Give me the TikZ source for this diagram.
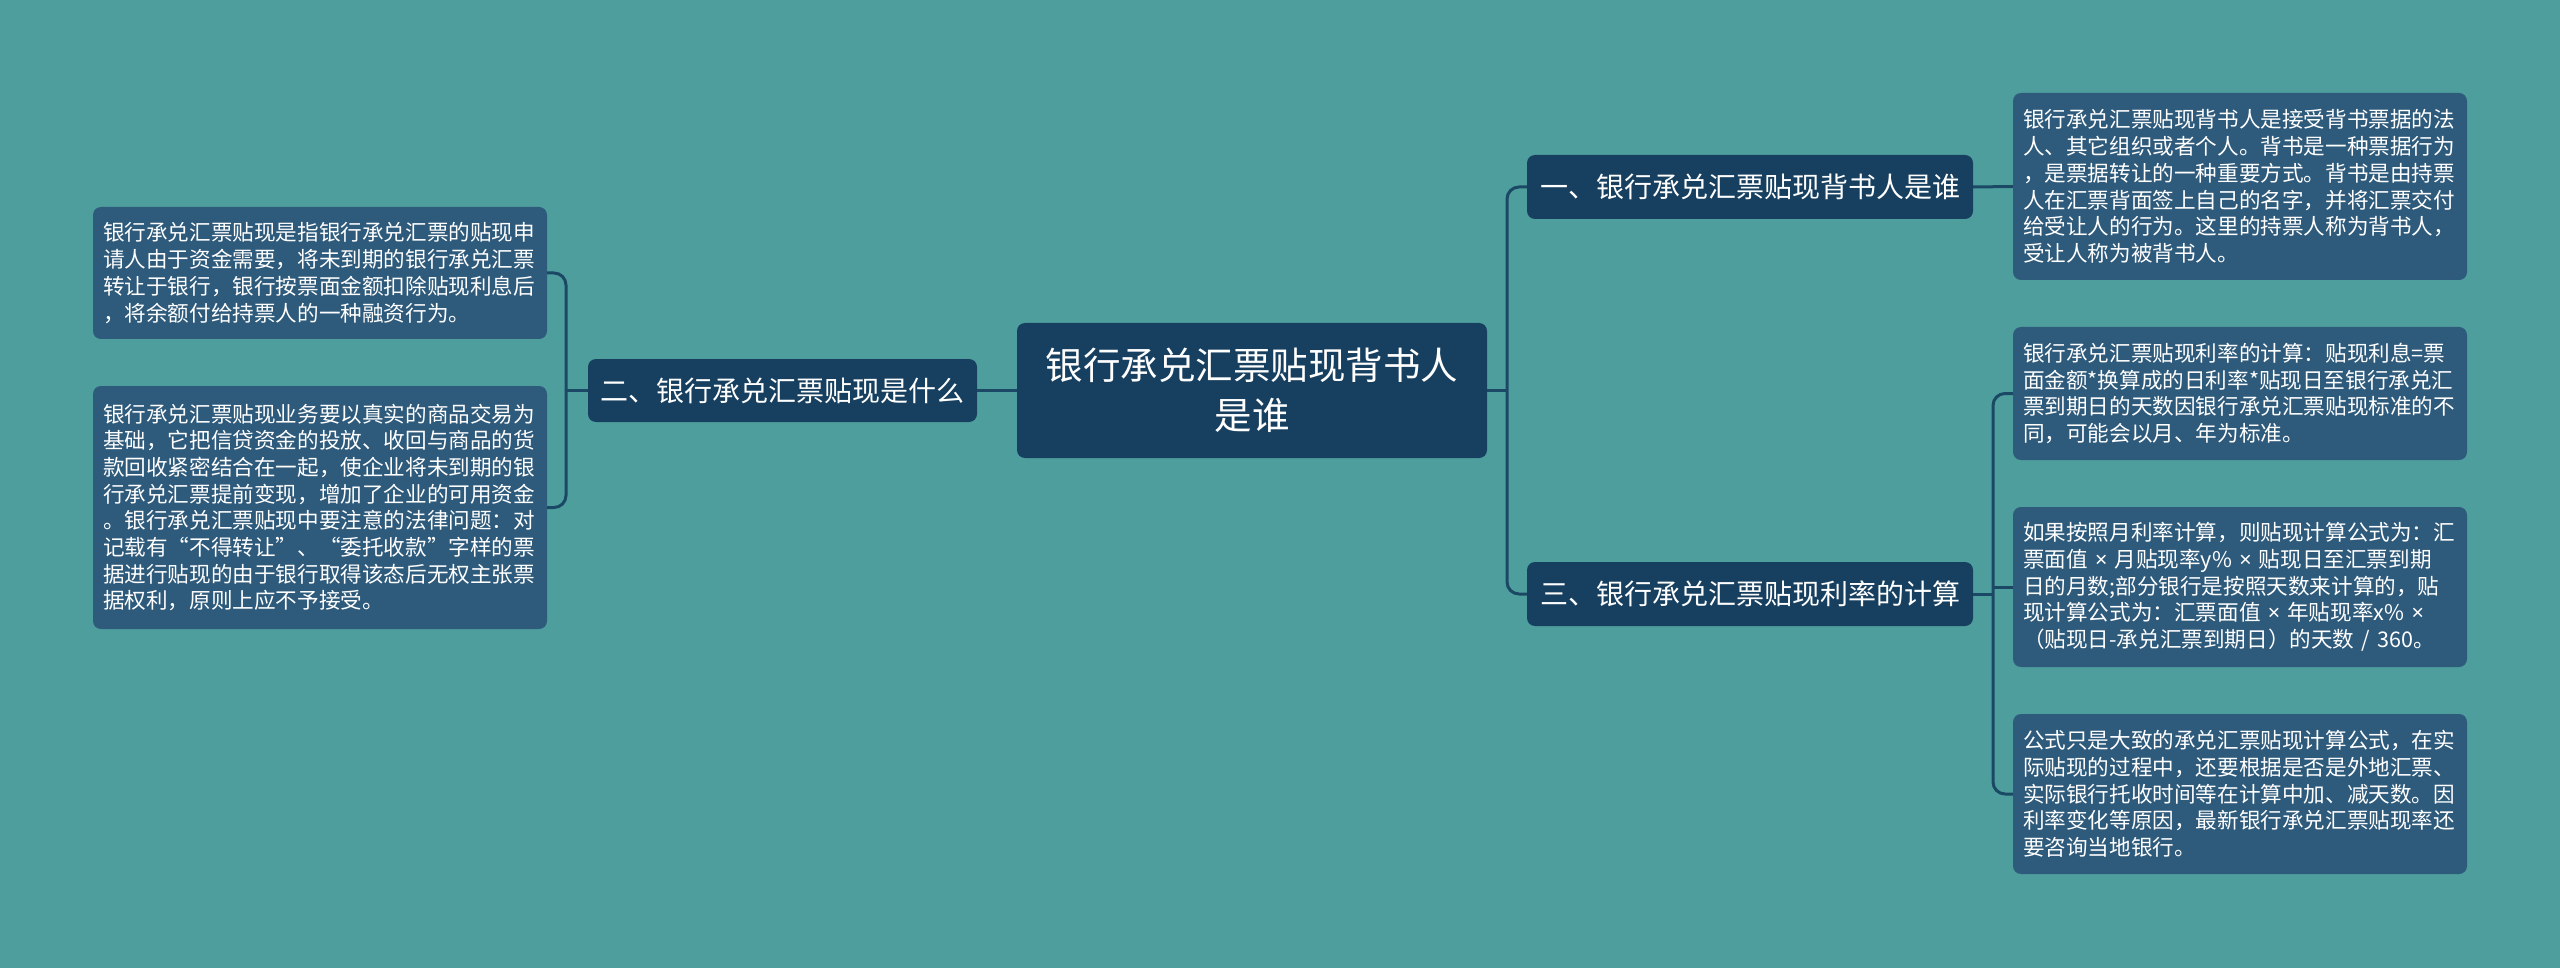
\documentclass[tikz,border=0pt]{standalone}
\usepackage{fontspec}
\setmainfont{Noto Sans CJK SC}
\newfontfamily\latinfont{Noto Sans}
\newcommand{\tms}{{\latinfont ×}}
\definecolor{bgcol}{HTML}{4E9E9D}
\definecolor{mainfill}{HTML}{173F5F}
\definecolor{leaffill}{HTML}{2E5A7B}
\definecolor{linecol}{HTML}{1B4965}
\tikzset{
  mainbox/.style={rectangle, rounded corners=8pt, fill=mainfill, text=white, inner sep=0pt, align=center},
  leafbox/.style={rectangle, rounded corners=8pt, fill=leaffill, text=white, inner sep=0pt, text width=434pt, minimum width=454pt, align=left, font=\fontsize{21.6pt}{26.7pt}\selectfont},
  topicfont/.style={font=\fontsize{28pt}{34pt}\selectfont},
  link/.style={draw=linecol, line width=3pt},
}
\begin{document}
\begin{tikzpicture}[x=1pt, y=-1pt]
\fill[bgcol] (0,0) rectangle (2560,968);
\useasboundingbox (0,0) rectangle (2560,968);

% central
\node[mainbox, minimum width=470pt, minimum height=135pt, text width=450pt, font=\fontsize{37.5pt}{50pt}\selectfont] (c) at (1252,390.5) {银行承兑汇票贴现背书人\\是谁};

% topics
\node[mainbox, topicfont, minimum width=446pt, minimum height=64pt] (n1) at (1750,187) {一、银行承兑汇票贴现背书人是谁};
\node[mainbox, topicfont, minimum width=446pt, minimum height=64pt] (n3) at (1750,594) {三、银行承兑汇票贴现利率的计算};
\node[mainbox, topicfont, minimum width=389pt, minimum height=63pt] (n2) at (782.5,390.5) {二、银行承兑汇票贴现是什么};

% left leaves
\node[leafbox, minimum height=132pt] (l1) at (320,273) {银行承兑汇票贴现是指银行承兑汇票的贴现申\\请人由于资金需要，将未到期的银行承兑汇票\\转让于银行，银行按票面金额扣除贴现利息后\\，将余额付给持票人的一种融资行为。};
\node[leafbox, minimum height=243pt] (l2) at (320,507.5) {银行承兑汇票贴现业务要以真实的商品交易为\\基础，它把信贷资金的投放、收回与商品的货\\款回收紧密结合在一起，使企业将未到期的银\\行承兑汇票提前变现，增加了企业的可用资金\\。银行承兑汇票贴现中要注意的法律问题：对\\记载有“不得转让”、“委托收款”字样的票\\据进行贴现的由于银行取得该态后无权主张票\\据权利，原则上应不予接受。};

% right leaves
\node[leafbox, minimum height=187pt] (r1) at (2240,186.5) {银行承兑汇票贴现背书人是接受背书票据的法\\人、其它组织或者个人。背书是一种票据行为\\，是票据转让的一种重要方式。背书是由持票\\人在汇票背面签上自己的名字，并将汇票交付\\给受让人的行为。这里的持票人称为背书人，\\受让人称为被背书人。};
\node[leafbox, minimum height=133pt] (r2) at (2240,393.5) {银行承兑汇票贴现利率的计算：贴现利息=票\\面金额*换算成的日利率*贴现日至银行承兑汇\\票到期日的天数因银行承兑汇票贴现标准的不\\同，可能会以月、年为标准。};
\node[leafbox, minimum height=160pt] (r3) at (2240,587) {如果按照月利率计算，则贴现计算公式为：汇\\票面值 \tms{} 月贴现率y\% \tms{} 贴现日至汇票到期\\日的月数;部分银行是按照天数来计算的，贴\\现计算公式为：汇票面值 \tms{} 年贴现率x\% \tms\\（贴现日-承兑汇票到期日）的天数 / 360。};
\node[leafbox, minimum height=160pt] (r4) at (2240,794) {公式只是大致的承兑汇票贴现计算公式，在实\\际贴现的过程中，还要根据是否是外地汇票、\\实际银行托收时间等在计算中加、减天数。因\\利率变化等原因，最新银行承兑汇票贴现率还\\要咨询当地银行。};

% junctions
\coordinate (jc) at (1507,390.5);
\coordinate (j2) at (566,390.5);
\coordinate (j3) at (1993,594);

% connectors
\draw[link] (c.west) -- (n2.east);
\draw[link] (c.east) -- (jc);
\draw[link, rounded corners=12pt] (n1.west) -| (jc) |- (n3.west);
\draw[link] (n1.east) -- (r1.west);
\draw[link] (n2.west) -- (j2);
\draw[link, rounded corners=12pt] (l1.east) -| (j2) |- (l2.east);
\draw[link] (n3.east) -- (j3);
\draw[link, rounded corners=12pt] (r2.west) -| (j3) |- (r4.west);
\draw[link] (j3 |- r3.west) -- (r3.west);
\end{tikzpicture}
\end{document}
